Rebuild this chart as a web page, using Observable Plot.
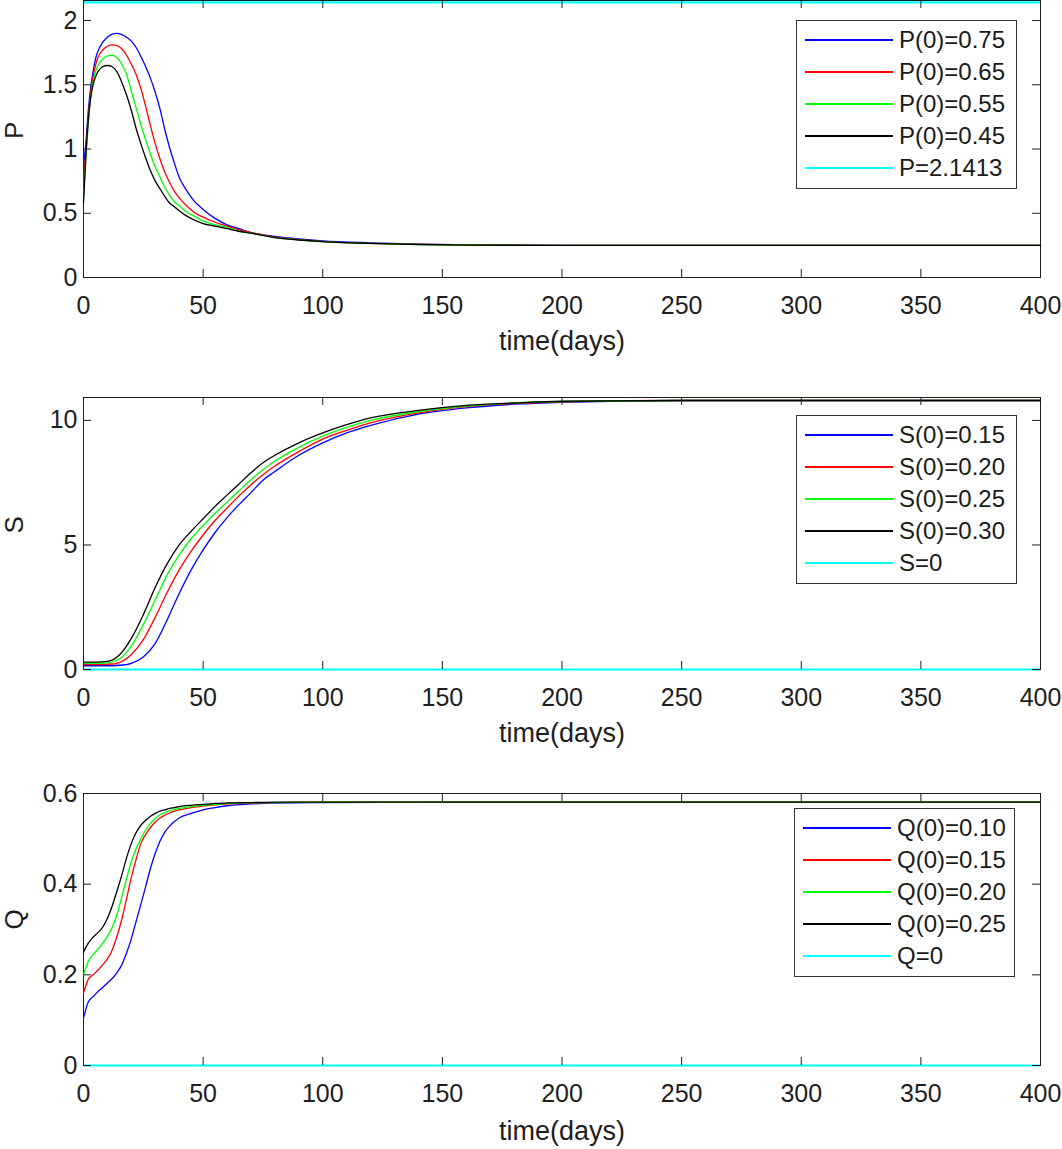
<!DOCTYPE html>
<html><head><meta charset="utf-8">
<script src="https://cdn.jsdelivr.net/npm/d3@7"></script>
<script src="https://cdn.jsdelivr.net/npm/@observablehq/plot@0.6"></script>
<style>
body{margin:0;background:#fff;}
#fig{position:relative;width:1062px;height:1149px;font-family:"Liberation Sans",Arial,sans-serif;overflow:hidden;background:#fff;}
.panel{position:absolute;left:0;}
.legend{position:absolute;box-sizing:border-box;border:1.5px solid #333;background:#fff;padding-top:3px;}
.row{display:flex;align-items:center;height:32px;}
.sw{width:88px;height:2px;margin-left:8px;margin-right:6px;flex:none;}
.lt{font-size:24px;color:#1a1a1a;white-space:nowrap;line-height:32px;}
</style></head><body><div id="fig"></div><script>
// ---------- shared ----------
const xTicks = [0, 50, 100, 150, 200, 250, 300, 350, 400];
const xTickLabels = ["0", "50", "100", "150", "200", "250", "300", "350", "400"];
const xLabel = "time(days)";
const seriesColors = ["#0000ff", "#ff0000", "#00ff00", "#000000"];
const eqColor = "#00ffff";

// ---------- panel 1 : P ----------
const pTime = [0,1,2,3,4,5,6,8,10,12,14,16,18,20,22,24,26,28,30,32,34,36,38,40,43,46,50,55,60,65,70,80,90,100,120,140,160,200,250,300,400];
const pBlue  = [0.87,1.05,1.3,1.48,1.6,1.7,1.76,1.83,1.87,1.895,1.9,1.89,1.87,1.84,1.79,1.72,1.64,1.55,1.44,1.31,1.15,1.01,0.89,0.78,0.68,0.6,0.53,0.46,0.41,0.38,0.35,0.32,0.3,0.285,0.27,0.26,0.255,0.25,0.25,0.25,0.25];
const pRed   = [0.75,0.98,1.25,1.44,1.56,1.65,1.71,1.77,1.8,1.81,1.805,1.78,1.73,1.66,1.58,1.47,1.33,1.18,1.04,0.92,0.82,0.74,0.67,0.62,0.56,0.51,0.47,0.43,0.4,0.37,0.35,0.315,0.295,0.28,0.265,0.258,0.253,0.25,0.25,0.25,0.25];
const pGreen = [0.62,0.92,1.2,1.4,1.52,1.6,1.65,1.7,1.725,1.73,1.71,1.66,1.58,1.45,1.32,1.19,1.07,0.96,0.86,0.78,0.7,0.64,0.59,0.56,0.51,0.48,0.44,0.41,0.39,0.36,0.345,0.31,0.293,0.28,0.265,0.257,0.252,0.25,0.25,0.25,0.25];
const pBlack = [0.58,0.95,1.22,1.4,1.5,1.56,1.6,1.64,1.65,1.64,1.6,1.52,1.42,1.3,1.16,1.04,0.93,0.83,0.75,0.69,0.63,0.58,0.55,0.52,0.48,0.45,0.42,0.4,0.38,0.36,0.345,0.31,0.292,0.279,0.265,0.257,0.252,0.25,0.25,0.25,0.25];
const pEq = 2.1413;
const pTicks = [0, 0.5, 1, 1.5, 2];
const pTickLabels = ["0", "0.5", "1", "1.5", "2"];
const pLegend = ["P(0)=0.75", "P(0)=0.65", "P(0)=0.55", "P(0)=0.45", "P=2.1413"];

// ---------- panel 2 : S ----------
const sTime = [0,5,10,15,20,25,30,35,40,45,50,55,60,65,70,75,80,90,100,110,120,140,160,180,200,250,300,400];
const sBlue  = [0.15,0.15,0.15,0.17,0.25,0.5,1.05,2.0,3.05,4.0,4.8,5.5,6.1,6.62,7.1,7.6,7.95,8.6,9.1,9.5,9.8,10.25,10.5,10.65,10.73,10.8,10.8,10.8];
const sRed   = [0.2,0.2,0.21,0.28,0.6,1.2,2.1,3.1,4.0,4.75,5.4,5.98,6.48,6.97,7.42,7.82,8.17,8.75,9.25,9.6,9.9,10.3,10.55,10.68,10.75,10.8,10.8,10.8];
const sGreen = [0.25,0.25,0.27,0.42,0.95,1.8,2.8,3.8,4.6,5.25,5.78,6.27,6.72,7.17,7.62,8.02,8.37,8.92,9.37,9.72,10.0,10.35,10.57,10.7,10.76,10.8,10.8,10.8];
const sBlack = [0.3,0.3,0.33,0.58,1.25,2.2,3.3,4.25,5.0,5.55,6.05,6.55,7.0,7.45,7.9,8.3,8.6,9.1,9.5,9.83,10.1,10.4,10.6,10.7,10.77,10.8,10.8,10.8];
const sEq = 0;
const sTicks = [0, 5, 10];
const sTickLabels = ["0", "5", "10"];
const sLegend = ["S(0)=0.15", "S(0)=0.20", "S(0)=0.25", "S(0)=0.30", "S=0"];

// ---------- panel 3 : Q ----------
const qTime = [0,2,4,6,8,10,12,14,16,18,20,22,24,26,28,30,32,34,36,38,40,45,50,55,60,70,80,100,150,200,400];
const qBlue  = [0.105,0.14,0.152,0.163,0.172,0.182,0.192,0.205,0.222,0.248,0.28,0.318,0.356,0.395,0.435,0.468,0.495,0.515,0.528,0.538,0.546,0.556,0.564,0.569,0.573,0.577,0.579,0.58,0.581,0.581,0.581];
const qRed   = [0.16,0.19,0.2,0.21,0.222,0.235,0.255,0.285,0.322,0.368,0.415,0.455,0.49,0.51,0.525,0.537,0.546,0.552,0.557,0.561,0.564,0.569,0.572,0.575,0.577,0.579,0.58,0.581,0.581,0.581,0.581];
const qGreen = [0.2,0.23,0.245,0.256,0.27,0.285,0.305,0.333,0.372,0.412,0.45,0.478,0.5,0.52,0.534,0.545,0.553,0.558,0.562,0.565,0.567,0.571,0.574,0.576,0.578,0.58,0.58,0.581,0.581,0.581,0.581];
const qBlack = [0.25,0.27,0.283,0.293,0.305,0.325,0.352,0.385,0.42,0.458,0.49,0.514,0.53,0.541,0.55,0.556,0.561,0.564,0.567,0.569,0.571,0.574,0.576,0.578,0.579,0.58,0.581,0.581,0.581,0.581,0.581];
const qEq = 0;
const qTicks = [0, 0.2, 0.4, 0.6];
const qTickLabels = ["0", "0.2", "0.4", "0.6"];
const qLegend = ["Q(0)=0.10", "Q(0)=0.15", "Q(0)=0.20", "Q(0)=0.25", "Q=0"];

const axisColor = "#1e1e1e";
const fig = document.getElementById("fig");
const W = 1062, ML = 83, MR = 22, TICK = 8;

function makePanel(cfg) {
  const {top, height, marginTop, marginBottom, yDomain, yTicks, yTickLabels, yLabel, labelDy, time, series, eq, legend, legendTop, legendLeft} = cfg;
  const fh = height - marginTop - marginBottom;
  const fw = W - ML - MR;
  const marks = [
    Plot.frame({stroke: axisColor, strokeWidth: 1}),
    ...series.map((vals, k) => Plot.line(time.map((t, i) => ({t, v: vals[i]})), {x: "t", y: "v", stroke: seriesColors[k], strokeWidth: 1.3, curve: "monotone-x"})),
    Plot.ruleY([eq], {stroke: eqColor, strokeWidth: 2.2}),
    // inward tick marks on all four sides
    Plot.tickX(xTicks, {x: d => d, insetTop: fh - TICK, stroke: axisColor}),
    Plot.tickX(xTicks, {x: d => d, insetBottom: fh - TICK, stroke: axisColor}),
    Plot.tickY(yTicks, {y: d => d, insetRight: fw - TICK, stroke: axisColor}),
    Plot.tickY(yTicks, {y: d => d, insetLeft: fw - TICK, stroke: axisColor}),
    // tick labels
    Plot.axisX({anchor: "bottom", ticks: xTicks, tickSize: 0, tickPadding: 19, fontSize: 25, label: null, tickFormat: d => xTickLabels[xTicks.indexOf(d)], fill: axisColor}),
    Plot.axisY({anchor: "left", ticks: yTicks, tickSize: 0, tickPadding: 6, fontSize: 25, label: null, tickFormat: d => yTickLabels[yTicks.indexOf(d)], fill: axisColor}),
    // axis titles
    Plot.text([xLabel], {frameAnchor: "bottom", dy: labelDy, lineAnchor: "top", fontSize: 27, text: d => d, fill: axisColor}),
    Plot.text([yLabel], {frameAnchor: "left", dx: -69, rotate: -90, fontSize: 26, text: d => d, fill: axisColor})
  ];
  const svg = Plot.plot({
    width: W, height, marginTop, marginBottom, marginLeft: ML, marginRight: MR,
    x: {domain: [0, 400], label: null, axis: null},
    y: {domain: yDomain, label: null, axis: null},
    style: {fontFamily: '"Liberation Sans", Arial, sans-serif', fontSize: "25px", color: axisColor, background: "#fff", overflow: "visible"},
    marks
  });
  svg.classList.add("panel");
  svg.style.top = top + "px";
  svg.style.position = "absolute";
  fig.appendChild(svg);

  const lg = document.createElement("div");
  lg.className = "legend";
  lg.style.left = legendLeft + "px";
  lg.style.top = legendTop + "px";
  lg.style.width = "221px";
  lg.style.height = "169px";
  const cols = [...seriesColors, eqColor];
  legend.forEach((txt, k) => {
    const row = document.createElement("div");
    row.className = "row";
    const sw = document.createElement("div");
    sw.className = "sw";
    sw.style.background = cols[k];
    const lt = document.createElement("span");
    lt.className = "lt";
    lt.textContent = txt;
    row.appendChild(sw); row.appendChild(lt);
    lg.appendChild(row);
  });
  fig.appendChild(lg);
}

makePanel({top: 0, height: 370, marginTop: 0, marginBottom: 93, yDomain: [0, 2.156], yTicks: pTicks, yTickLabels: pTickLabels, yLabel: "P", labelDy: 53,
  time: pTime, series: [pBlue, pRed, pGreen, pBlack], eq: pEq, legend: pLegend, legendTop: 20, legendLeft: 796});
makePanel({top: 380, height: 374, marginTop: 17, marginBottom: 85, yDomain: [0, 10.92], yTicks: sTicks, yTickLabels: sTickLabels, yLabel: "S", labelDy: 53,
  time: sTime, series: [sBlue, sRed, sGreen, sBlack], eq: sEq, legend: sLegend, legendTop: 415, legendLeft: 796});
makePanel({top: 775, height: 374, marginTop: 18, marginBottom: 84, yDomain: [0, 0.6], yTicks: qTicks, yTickLabels: qTickLabels, yLabel: "Q", labelDy: 55,
  time: qTime, series: [qBlue, qRed, qGreen, qBlack], eq: qEq, legend: qLegend, legendTop: 808, legendLeft: 794});
</script></body></html>
